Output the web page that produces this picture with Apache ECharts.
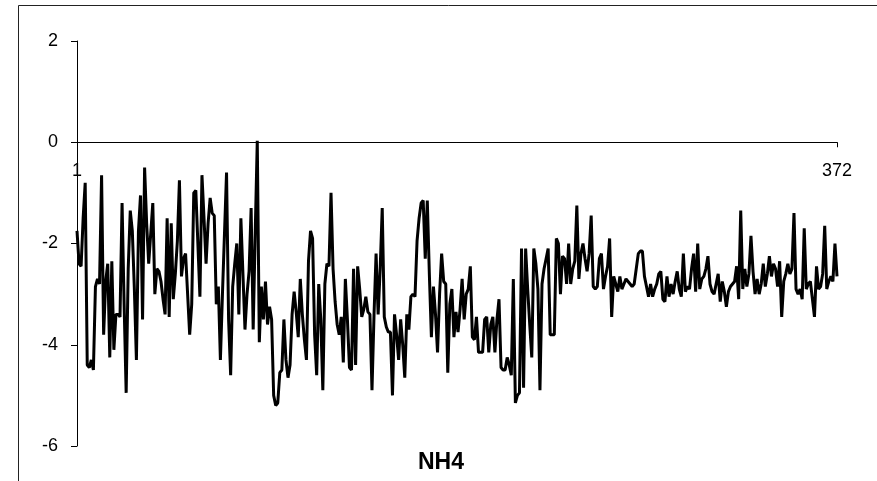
<!DOCTYPE html>
<html>
<head>
<meta charset="utf-8">
<script src="https://cdn.jsdelivr.net/npm/echarts@6/dist/echarts.min.js"></script>
<style>
  html, body { margin: 0; padding: 0; background: #fff; }
  #chart { width: 877px; height: 481px; }
</style>
</head>
<body>
<div id="chart"></div>
<script>
const nh4Values = [
  -1.75, -2.4, -2.45, -1.5, -0.8, -4.4, -4.45, -4.3, -4.5, -2.85, -2.7, -2.8, -0.65, -3.8, -2.75, -2.4,
  -4.25, -2.35, -4.1, -3.4, -3.4, -3.45, -1.2, -3.2, -4.95, -2.5, -1.35, -1.75, -2.9, -4.3, -1.75, -1.05,
  -3.5, -0.5, -1.6, -2.4, -1.8, -1.2, -3.0, -2.5, -2.55, -2.75, -3.1, -3.4, -1.5, -3.45, -1.6, -3.1,
  -2.6, -1.95, -0.75, -2.65, -2.3, -2.2, -3.0, -3.8, -3.2, -1.0, -0.95, -2.0, -3.05, -0.65, -1.5, -2.4,
  -1.6, -1.1,
  -1.4, -1.45, -3.2, -2.85, -4.3, -3.0, -1.8, -0.6, -3.5, -4.6, -2.85, -2.4, -2.0, -3.4, -1.5, -2.6,
  -3.7, -3.0, -2.55, -1.3, -3.7, -1.8, 0.03, -3.95, -2.85, -3.5, -2.75, -3.6, -3.25, -3.5, -5.0, -5.2,
  -5.15, -4.55, -4.5,
  -3.5, -4.3, -4.65, -4.4, -3.4, -2.95, -3.35, -3.85, -2.7, -3.4, -3.9, -4.3, -2.35, -1.75, -1.9, -3.8,
  -4.6, -2.8, -3.5, -4.9, -2.8, -2.4, -2.45, -1.0, -2.5, -3.15, -3.6, -3.8, -3.45, -4.35, -2.7, -3.5,
  -4.45,
  -4.5, -2.5, -4.4, -2.45, -2.9, -3.45, -3.3, -3.05, -3.35, -3.4, -4.9, -3.4, -2.2, -3.4, -2.5, -1.3,
  -3.45, -3.65, -3.75, -3.75, -5.0, -3.4, -3.8, -4.3, -3.5, -4.0, -4.65, -3.4, -3.7, -3.05, -3.0, -3.05,
  -1.95, -1.5, -1.2,
  -1.15, -2.3, -1.15, -2.6, -3.85, -2.85, -3.4, -4.15, -3.0, -2.2, -2.75, -2.8, -4.55, -3.2, -2.9, -3.85,
  -3.35, -3.75, -3.3, -2.7, -3.5, -3.0, -2.9, -2.45, -3.85, -3.9, -3.45, -4.15, -4.15, -4.15, -3.5, -3.45,
  -4.15, -3.6, -3.45,
  -4.15, -3.5, -3.1, -4.45, -4.5, -4.5, -4.25, -4.4, -4.6, -2.7, -5.15, -5.0, -4.95, -2.1, -4.85, -2.1,
  -2.9, -3.6, -4.25, -2.1, -2.4, -2.9, -4.9, -2.8, -2.5, -2.3, -2.1, -3.8, -3.8, -3.8, -1.9, -2.0,
  -3.0, -2.25,
  -2.3, -2.8, -2.0, -2.8, -2.5, -2.35, -1.25, -2.7, -2.2, -2.0, -2.3, -2.55, -2.2, -1.45, -2.85, -2.9,
  -2.85, -2.3, -2.2, -2.9, -2.65, -2.45, -1.9, -3.45, -2.65, -2.8, -2.95, -2.65, -2.9, -2.8, -2.7, -2.75,
  -2.8, -2.85,
  -2.8, -2.5, -2.2, -2.15, -2.15, -2.65, -2.85, -3.05, -2.8, -3.05, -2.9, -2.8, -2.6, -2.55, -3.1, -3.15,
  -2.65, -3.05, -2.8, -3.0, -2.75, -2.55, -2.9, -3.05, -2.2, -2.95, -2.85, -2.9, -2.5, -2.2, -2.95, -2.0,
  -2.9, -2.7,
  -2.65, -2.5, -2.25, -2.8, -2.95, -3.0, -2.8, -2.6, -3.15, -2.75, -2.95, -3.25, -2.95, -2.85, -2.8, -2.75,
  -2.45, -3.1, -1.35, -2.9, -2.5, -2.85, -2.6, -1.85, -2.55, -3.0, -2.7, -3.0, -2.8, -2.4, -2.85, -2.6,
  -2.25, -2.65, -2.4,
  -2.5, -2.85, -2.35, -3.45, -2.75, -2.6, -2.4, -2.6, -2.5, -1.4, -2.9, -3.0, -2.9, -3.1, -1.7, -2.9,
  -2.8, -2.75, -3.1, -3.45, -2.45, -2.9, -2.85, -2.6, -1.65, -2.9, -2.75, -2.65, -2.75, -2.0, -2.65
];
const xTicks = [1, 372];
const yMin = -6;
const yMax = 2;
const yStep = 2;
const chartTitle = "NH4";

const FONT = "Liberation Sans, Arial, sans-serif";
const GRID = { left: 77, right: 40, top: 41, bottom: 35 };
const PLOT_H = 481 - GRID.top - GRID.bottom;

const seriesData = nh4Values.map((v, i) => [i + 1, v]);

const chart = echarts.init(document.getElementById("chart"));
chart.setOption({
  animation: false,
  backgroundColor: "#ffffff",
  grid: GRID,
  xAxis: {
    type: "value",
    min: xTicks[0],
    max: xTicks[xTicks.length - 1],
    // x axis crosses the y axis at 0: move the whole axis (line, ticks, labels) up
    offset: -PLOT_H * (0 - yMin) / (yMax - yMin),
    axisLine: { onZero: false, lineStyle: { color: "#000", width: 1 } },
    axisTick: { show: true, customValues: xTicks, length: 5, lineStyle: { color: "#000" } },
    axisLabel: { customValues: xTicks, color: "#000", fontSize: 18, fontFamily: FONT, margin: 20 },
    splitLine: { show: false },
  },
  yAxis: {
    type: "value",
    min: yMin,
    max: yMax,
    interval: yStep,
    axisLine: { show: true, lineStyle: { color: "#000", width: 1 } },
    axisTick: { show: true, length: 6, lineStyle: { color: "#000" } },
    axisLabel: { color: "#000", fontSize: 18, fontFamily: FONT, margin: 19 },
    splitLine: { show: false },
  },
  graphic: [
    {
      type: "rect",
      shape: { x: 18.5, y: 5.5, width: 900, height: 520 },
      style: { fill: "none", stroke: "#222", lineWidth: 1 },
      silent: true,
    },
    {
      type: "text",
      x: 441,
      y: 463,
      style: {
        text: chartTitle,
        fill: "#000",
        font: "bold 23px " + FONT,
        textAlign: "center",
        textVerticalAlign: "middle",
      },
    },
  ],
  series: [
    {
      name: chartTitle,
      type: "line",
      data: seriesData,
      showSymbol: false,
      lineStyle: { color: "#000", width: 3 },
    },
  ],
});
</script>
</body>
</html>
